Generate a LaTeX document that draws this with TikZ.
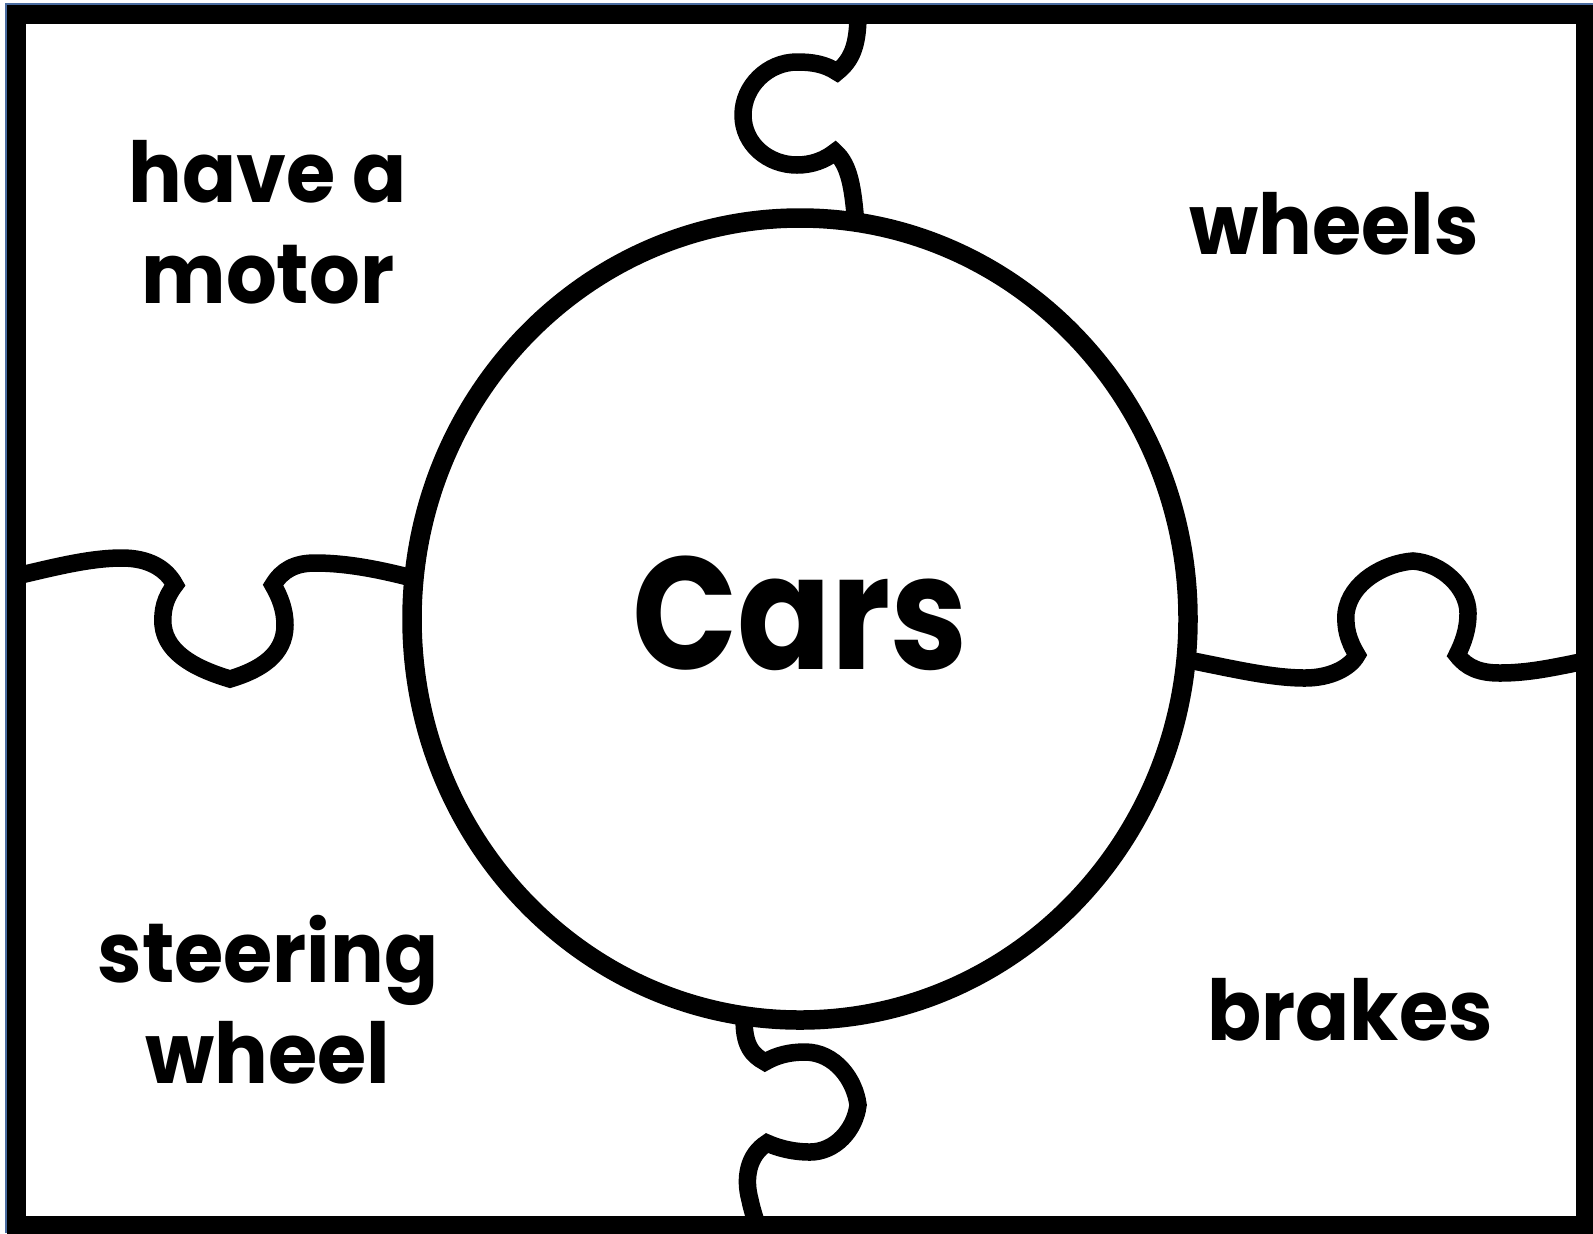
\documentclass[tikz,border=0pt]{standalone}
\usepackage{fontspec}
\setmainfont{Poppins}[FakeStretch=0.95]
\newfontfamily\carsfont{Poppins}[FakeStretch=0.865]
\usetikzlibrary{shapes.geometric}
\definecolor{edge}{RGB}{74,108,160}

\tikzset{
  piece/.style={line width=8.75pt,line join=miter},
  word/.style={align=center,font=\fontsize{42}{50.5}\selectfont\bfseries}
}

\begin{document}
\begin{tikzpicture}[x=0.5pt,y=-0.5pt]
  \useasboundingbox (0,0) rectangle (1593,1233);
  \draw[edge,line width=1.2pt] (6,1233) -- (6,4) -- (1593,4);
  \draw[line width=9.5pt] (16.5,14) rectangle (1585.5,1225.5);

  \node[draw,ellipse,line width=9.75pt,minimum width=388pt,minimum height=401pt,
    inner sep=0pt,outer sep=0pt,font=\carsfont\fontsize{80}{96}\selectfont\bfseries]
    (cars) at (800,619) {\raisebox{3pt}[\height][\depth]{Cars}};

  % top
  \draw[piece] (858,14) .. controls (858,45) and (852,60) .. (837,72)
    .. controls (825,64) and (812,62) .. (797,62)
    .. controls (768,62) and (743,86) .. (743,115)
    .. controls (743,144) and (768,165) .. (797,165)
    .. controls (812,165) and (825,160) .. (835,152)
    .. controls (850,165) and (853,190) .. (cars.82.5);
  % left
  \draw[piece] (16.5,576) .. controls (55,567) and (90,558) .. (122,558)
    .. controls (148,558) and (166,568) .. (175,585)
    .. controls (165,598) and (162,610) .. (163,625)
    .. controls (166,655) and (200,670) .. (230,679)
    .. controls (260,670) and (285,655) .. (285,625)
    .. controls (285,610) and (280,597) .. (273,585)
    .. controls (282,570) and (295,563) .. (315,563)
    .. controls (350,563) and (385,571) .. (cars.174);
  % right
  \draw[piece] (cars.354) .. controls (1230,668) and (1270,678) .. (1305,678)
    .. controls (1330,678) and (1350,668) .. (1357,655)
    .. controls (1348,640) and (1345,628) .. (1346,613)
    .. controls (1350,582) and (1385,563) .. (1413,561)
    .. controls (1442,563) and (1468,588) .. (1468,613)
    .. controls (1468,630) and (1463,643) .. (1457,655)
    .. controls (1467,668) and (1480,673) .. (1500,673)
    .. controls (1530,673) and (1555,667) .. (1585.5,661);
  % bottom
  \draw[piece] (cars.262) .. controls (743,1045) and (752,1055) .. (765,1062)
    .. controls (777,1055) and (790,1052) .. (805,1052)
    .. controls (835,1052) and (855,1080) .. (858,1105)
    .. controls (855,1130) and (835,1152) .. (810,1152)
    .. controls (793,1152) and (778,1148) .. (767,1143)
    .. controls (748,1155) and (744,1178) .. (750,1200)
    .. controls (752,1210) and (755,1218) .. (757,1225.5);

  \foreach \x/\y/\nm/\txt in {268/222/motor/{have a\\motor},1334/224/wheels/wheels,
      268/1000/steer/{steering\\wheel},1350/1010/brakes/brakes}
    \node[word] (\nm) at (\x,\y) {\txt};
\end{tikzpicture}
\end{document}
